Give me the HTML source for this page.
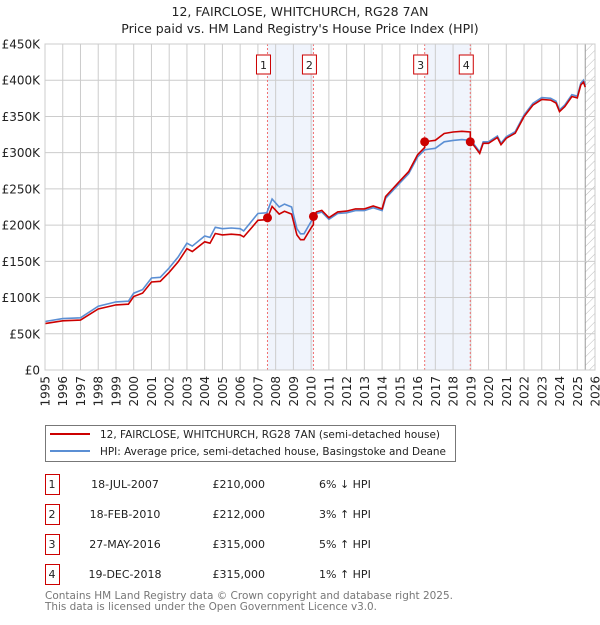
<!DOCTYPE html>
<html><head><meta charset="utf-8"><style>
body{margin:0;background:#fff;font-family:"Liberation Sans","DejaVu Sans",sans-serif;}
svg text{font-family:"DejaVu Sans","Liberation Sans",sans-serif;}
</style></head><body>
<svg id="c" width="600" height="620" viewBox="0 0 600 620" xmlns="http://www.w3.org/2000/svg">
<defs><pattern id="hatch" width="6" height="6" patternUnits="userSpaceOnUse" patternTransform="rotate(45)"><line x1="0" y1="0" x2="0" y2="6" stroke="#bbb" stroke-width="1"/></pattern></defs>
<text x="300" y="16" text-anchor="middle" font-size="12.5" fill="#222">12, FAIRCLOSE, WHITCHURCH, RG28 7AN</text>
<text x="300" y="33" text-anchor="middle" font-size="12.5" fill="#222">Price paid vs. HM Land Registry's House Price Index (HPI)</text>
<g id="plot"></g>
<g>
<rect x="45.5" y="425.5" width="410" height="36" fill="#fff" stroke="#777"/>
<line x1="50" y1="434" x2="90" y2="434" stroke="#cc0000" stroke-width="2"/>
<text x="100" y="438" font-size="10.5" textLength="340" lengthAdjust="spacingAndGlyphs" fill="#222">12, FAIRCLOSE, WHITCHURCH, RG28 7AN (semi-detached house)</text>
<line x1="50" y1="451" x2="90" y2="451" stroke="#5b8fd4" stroke-width="2"/>
<text x="100" y="455" font-size="10.5" textLength="346" lengthAdjust="spacingAndGlyphs" fill="#222">HPI: Average price, semi-detached house, Basingstoke and Deane</text>
</g>
<g id="table"></g>
<text x="45" y="599" font-size="10.5" textLength="408" lengthAdjust="spacingAndGlyphs" fill="#777">Contains HM Land Registry data © Crown copyright and database right 2025.</text>
<text x="45" y="610" font-size="10.5" textLength="332" lengthAdjust="spacingAndGlyphs" fill="#777">This data is licensed under the Open Government Licence v3.0.</text>
</svg>
<script>
const hpiYears=[1995,1996,1997,1998,1999,1999.7,2000,2000.5,2001,2001.5,2002,2002.5,2003,2003.3,2004,2004.3,2004.6,2005,2005.5,2006,2006.2,2006.7,2007,2007.5,2007.8,2008.2,2008.5,2008.9,2009.2,2009.4,2009.6,2010,2010.3,2010.6,2011,2011.5,2012,2012.5,2013,2013.5,2014,2014.2,2015,2015.5,2016,2016.4,2016.7,2017,2017.5,2018,2018.5,2019,2019.2,2019.5,2019.7,2020,2020.5,2020.7,2021,2021.5,2022,2022.5,2023,2023.5,2023.8,2024,2024.3,2024.7,2025,2025.2,2025.35,2025.45];
const hpiValues=[67,71,72,88,94,95,106,111,127,128,141,156,175,171,185,183,197,195,196,195,192,207,216,217,236,225,229,225,195,188,188,205,216,218,208,216,217,220,220,224,220,237,258,271,294,304,305,306,315,317,318,317,311,301,315,315,323,313,322,329,352,368,376,375,371,359,366,380,378,396,400,393];
const saleYears=[2007.54,2010.13,2016.4,2018.97];
const salePrices=[210,212,315,315];
const saleDates=["18-JUL-2007","18-FEB-2010","27-MAY-2016","19-DEC-2018"];
const salePriceLabels=["£210,000","£212,000","£315,000","£315,000"];
const saleHpiLabels=["6% ↓ HPI","3% ↑ HPI","5% ↑ HPI","1% ↑ HPI"];
const yTicks=[0,50,100,150,200,250,300,350,400,450];
const yTickLabels=["£0","£50K","£100K","£150K","£200K","£250K","£300K","£350K","£400K","£450K"];
const xTicks=[1995,1996,1997,1998,1999,2000,2001,2002,2003,2004,2005,2006,2007,2008,2009,2010,2011,2012,2013,2014,2015,2016,2017,2018,2019,2020,2021,2022,2023,2024,2025,2026];

const NS="http://www.w3.org/2000/svg";
const X0=45,X1=595,Y0=370,Y1=44;
const xs=t=>X0+(t-1995)/(2026-1995)*(X1-X0);
const ys=v=>Y0-v/450*(Y0-Y1);
const plot=document.getElementById('plot');
function mk(tag,attrs,parent){const e=document.createElementNS(NS,tag);for(const k in attrs)e.setAttribute(k,attrs[k]);(parent||plot).appendChild(e);return e;}
function hpiAt(t){if(t<=hpiYears[0])return hpiValues[0];for(let i=1;i<hpiYears.length;i++){if(t<=hpiYears[i]){const f=(t-hpiYears[i-1])/(hpiYears[i]-hpiYears[i-1]);return hpiValues[i-1]+f*(hpiValues[i]-hpiValues[i-1]);}}return hpiValues[hpiValues.length-1];}

for(let k=0;k<2;k++){const a=saleYears[2*k],b=saleYears[2*k+1];
const r=mk('rect',{x:xs(a),y:Y1,width:xs(b)-xs(a),height:Y0-Y1,fill:'#f0f4fc'});

}
const lastT=hpiYears[hpiYears.length-1];
const h=mk('rect',{x:xs(lastT),y:Y1,width:X1-xs(lastT),height:Y0-Y1,fill:'url(#hatch)'});


mk('line',{x1:xs(lastT),y1:Y1,x2:xs(lastT),y2:Y0,stroke:'#999'});
yTicks.forEach((v,i)=>{
const l=mk('line',{x1:X0,x2:X1,y1:ys(v),y2:ys(v),stroke:'#cccccc'});


const t=mk('text',{x:40,y:ys(v)+4.5,'text-anchor':'end','font-size':'12',fill:'#222'});t.textContent=yTickLabels[i];

});
xTicks.forEach(yr=>{
const l=mk('line',{x1:xs(yr),x2:xs(yr),y1:Y1,y2:Y0,stroke:'#cccccc'});


const t=mk('text',{x:0,y:0,'text-anchor':'end','font-size':'12',fill:'#222',transform:`translate(${xs(yr)+4.5},376) rotate(-90)`});t.textContent=yr;

});
saleYears.forEach((s,i)=>{
const l=mk('line',{x1:xs(s),x2:xs(s),y1:Y1,y2:Y0,stroke:'#f07070','stroke-dasharray':'2,2','stroke-width':1});


const cx=xs(s)-4;
const b=mk('rect',{x:cx-7,y:55,width:14,height:19,fill:'#fff',stroke:'#cc0000'});


const t=mk('text',{x:cx,y:69,'text-anchor':'middle','font-size':'11',fill:'#222'});t.textContent=i+1;

});
let d='';hpiYears.forEach((t,i)=>{d+=(i?'L':'M')+xs(t).toFixed(1)+','+ys(hpiValues[i]).toFixed(1);});
const hp=mk('path',{d:d,fill:'none',stroke:'#5b8fd4','stroke-width':1.6});


function ratioAt(t){let k=0;for(let i=0;i<saleYears.length;i++)if(t>=saleYears[i])k=i;return salePrices[k]/hpiAt(saleYears[k]);}
const pts=[...hpiYears,...saleYears].sort((a,b)=>a-b);
let d2='';let prevK=-1;
pts.forEach((t,i)=>{let k=0;for(let j=0;j<saleYears.length;j++)if(t>=saleYears[j])k=j;
if(i&&k!==prevK&&t===saleYears[k]){d2+='L'+xs(t).toFixed(1)+','+ys(hpiAt(t)*salePrices[Math.max(prevK,0)]/hpiAt(saleYears[Math.max(prevK,0)])).toFixed(1);}
d2+=(i?'L':'M')+xs(t).toFixed(1)+','+ys(hpiAt(t)*ratioAt(t)).toFixed(1);prevK=k;});
const pp=mk('path',{d:d2,fill:'none',stroke:'#cc0000','stroke-width':1.6});


saleYears.forEach((s,i)=>{const c=mk('circle',{cx:xs(s),cy:ys(salePrices[i]),r:4.5,fill:'#cc0000'});

});
mk('rect',{x:X0,y:Y1,width:X1-X0,height:Y0-Y1,fill:'none',stroke:'#cccccc'});
const tb=document.getElementById('table');
saleYears.forEach((s,i)=>{const y=484+i*30;
const b=mk('rect',{x:45.5,y:y-9.5,width:14,height:20,fill:'#fff',stroke:'#cc0000'},tb);


const cells=[[52,'middle',String(i+1)],[125,'middle',saleDates[i]],[265,'end',salePriceLabels[i]],[319,'start',saleHpiLabels[i]]];
cells.forEach(c=>{const t=mk('text',{x:c[0],y:y+4,'text-anchor':c[1],'font-size':'11',fill:'#222'},tb);t.textContent=c[2];

});});
</script>
</body></html>
